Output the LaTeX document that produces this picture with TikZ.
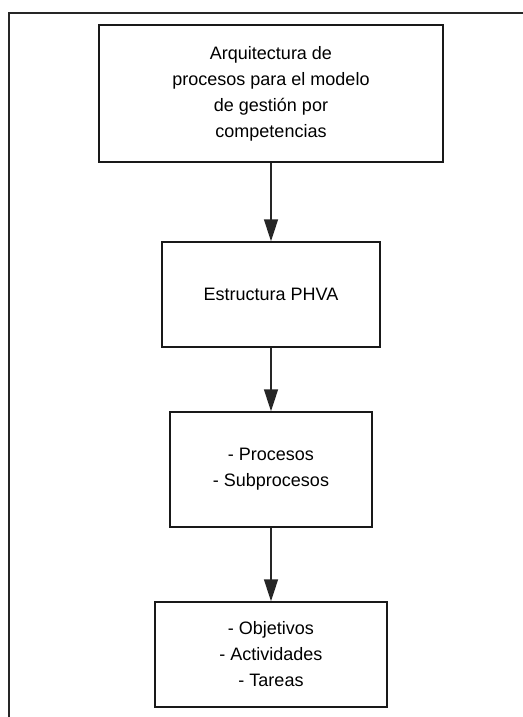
\documentclass[tikz,border=0pt]{standalone}
\usepackage{fontspec}
\setmainfont{Liberation Sans}
\usepackage{tikz}
\usetikzlibrary{arrows.meta}
\usetikzlibrary{positioning}

\begin{document}
\begin{tikzpicture}[
x=0.75pt,y=-0.75pt,
MyBox/.style={draw=black!90,line width=1.1pt,align=center,inner sep=0pt,
  font=\fontsize{13.5}{19.5}\selectfont},
MyArrow/.style={draw=black!85,line width=1.1pt,-{Triangle[length=16.5pt,width=10.5pt]}},
Frame/.style={draw=black!85,line width=1.1pt}
]
\useasboundingbox (0,0) rectangle (523,717);

% frame
\coordinate (FrameBottom) at (9,717);
\coordinate (FrameCorner) at (9,13);
\coordinate (FrameRight) at (523,13);
\draw[Frame] (FrameBottom)--(FrameCorner)--(FrameRight);

\node[MyBox,minimum width=258pt,minimum height=102.75pt] (Arquitectura) at (271,93.5)
  {Arquitectura de\\procesos para el modelo\\de gestión por\\competencias};

\node[MyBox,minimum width=163.5pt,minimum height=78.75pt] (PHVA) at (271,294.5)
  {Estructura PHVA};

\node[MyBox,minimum width=151.5pt,minimum height=86.25pt] (Procesos) at (271,469.5)
  {- Procesos\\- Subprocesos};

\node[MyBox,minimum width=174pt,minimum height=78.75pt] (Objetivos) at (271,654.5)
  {- Objetivos\\- Actividades\\- Tareas};

\draw[MyArrow] (Arquitectura)--(PHVA);
\draw[MyArrow] (PHVA)--(Procesos);
\draw[MyArrow] (Procesos)--(Objetivos);

\end{tikzpicture}
\end{document}
